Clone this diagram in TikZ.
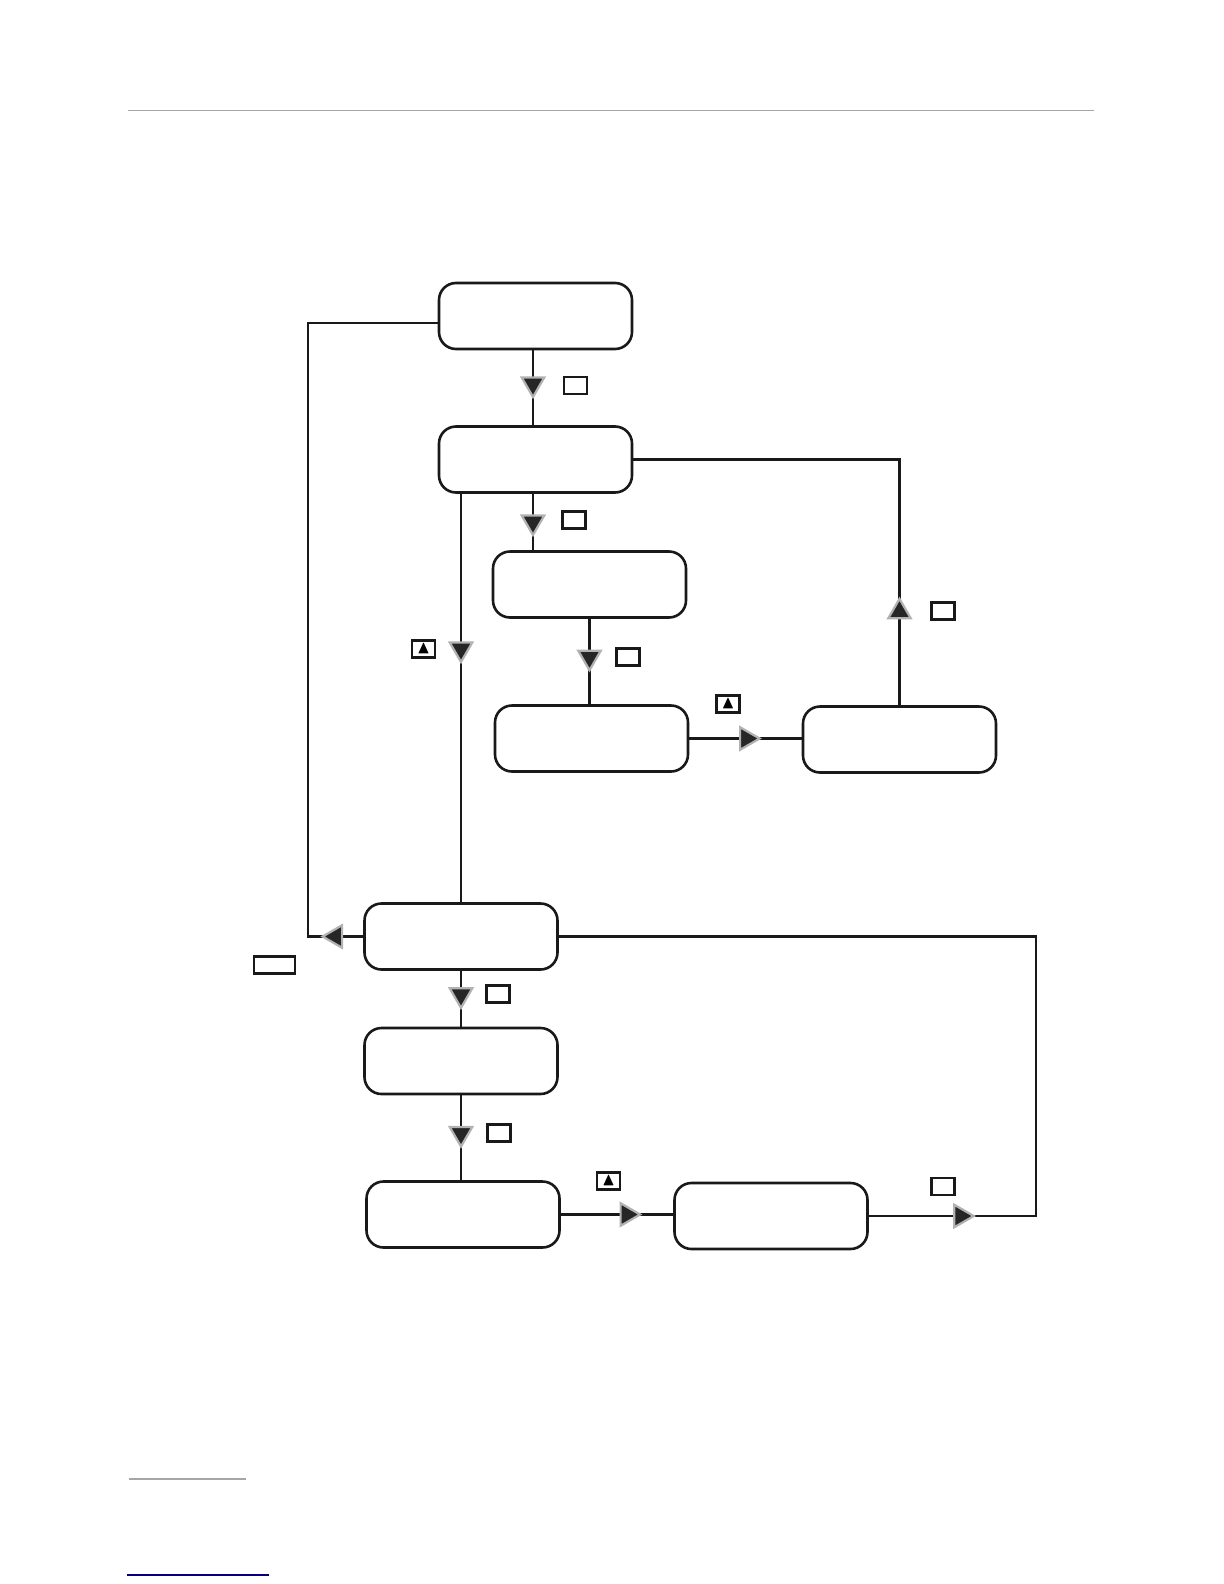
\documentclass[tikz,border=0pt]{standalone}
\usepackage{amssymb}
\usetikzlibrary{shapes.geometric, positioning}
\tikzset{
  stepbox/.style={
    rectangle, rounded corners=8.5pt,
    minimum width=96.5pt, minimum height=33pt,
    draw=black!90, line width=1.3pt, fill=white
  },
  flowline/.style={line width=1.1pt, draw=black!90},
  flowmark/.style={
    regular polygon, regular polygon sides=3, shape border rotate=#1,
    minimum size=13pt, inner sep=0pt,
    fill=black!85, draw=gray!60, line width=1.1pt
  },
  keybox/.style={
    rectangle, draw=black!90, line width=1.1pt, fill=white,
    minimum width=#1, minimum height=8.5pt, inner sep=0pt,
    font=\small
  },
  keybox/.default=11.5pt,
}

\begin{document}
\begin{tikzpicture}[x=0.5pt,y=-0.5pt]
  \useasboundingbox (0,0) rectangle (1224,1584);
  % page rules
  \draw[gray!70, line width=0.5pt] (128,111) -- (1094,111);
  \draw[gray!70, line width=0.8pt] (129,1479) -- (246,1479);
  \draw[blue!50!black, line width=0.8pt] (127,1575) -- (269,1575);

  % boxes
  \node[stepbox](b1)at(535.5,316)  {};
  \node[stepbox](b2)at(535.5,459.5){};
  \node[stepbox](b3)at(589.5,584.5){};
  \node[stepbox](b4)at(591.5,738.5){};
  \node[stepbox](b5)at(899.5,739.5){};
  \node[stepbox](b6)at(461,936.5)  {};
  \node[stepbox](b7)at(461,1061)   {};
  \node[stepbox](b8)at(463,1214.5) {};
  \node[stepbox](b9)at(771,1216)   {};

  \coordinate (cl) at (308,0);
  \coordinate (cr) at (1036,0);
  \coordinate (cm) at (533,0);

  % connectors
  \draw[flowline](b1.south -| cm)--node[flowmark=180,pos=0.45](m1){}(b2.north -| cm);
  \draw[flowline](b2.south -| cm)--node[flowmark=180,pos=0.5](m2){}(b3.north -| cm);
  \draw[flowline](b6.north |- b2.south)--node[flowmark=180,pos=0.38](m3){}(b6.north);
  \draw[flowline](b3.south)--node[flowmark=180,pos=0.45](m4){}(b3.south |- b4.north);
  \draw[flowline](b4.east)--node[flowmark=-90,pos=0.51](m5){}(b4.east -| b5.west);
  \draw[flowline](b2.east)-|node[flowmark=0,pos=0.81](m6){}(b5.north);
  \draw[flowline](b6.west)--node[flowmark=90,pos=0.5](m7){}(b6.west -| cl)
                 |-([yshift=-3.5pt]b1.west);
  \draw[flowline](b6.south)--node[flowmark=180,pos=0.43](m8){}(b7.north);
  \draw[flowline](b7.south)--node[flowmark=180,pos=0.45](m9){}(b7.south |- b8.north);
  \draw[flowline](b8.east)--node[flowmark=-90,pos=0.59](m10){}(b8.east -| b9.west);
  \draw[flowline](b9.east)--node[flowmark=-90,pos=0.55](m11){}(b9.east -| cr)
                 |-(b6.east);

  % keys
  \node[keybox](k1)at(575.5,385.5){};
  \node[keybox](k2)at(574,520)    {};
  \node[keybox](k3)at(423.5,649)  {$\blacktriangle$};
  \node[keybox](k4)at(628,657)    {};
  \node[keybox](k5)at(728,704)    {$\blacktriangle$};
  \node[keybox](k6)at(943,611)    {};
  \node[keybox=20.5pt](k7)at(274.5,965){};
  \node[keybox](k8)at(498,994)    {};
  \node[keybox](k9)at(499,1133)   {};
  \node[keybox](k10)at(608.5,1181){$\blacktriangle$};
  \node[keybox](k11)at(943,1186.5){};
\end{tikzpicture}
\end{document}
